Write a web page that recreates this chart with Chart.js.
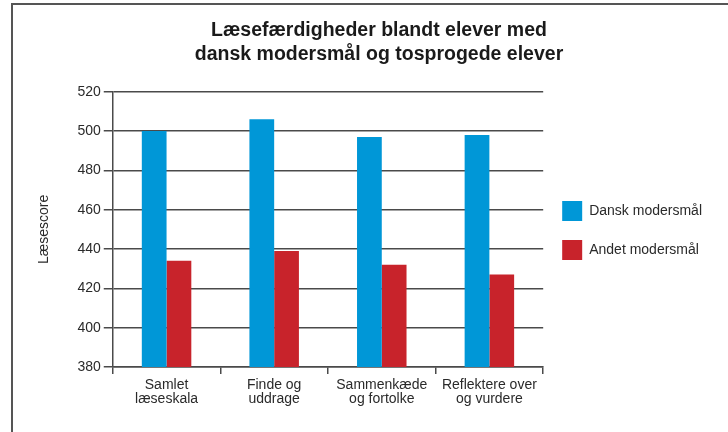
<!DOCTYPE html>
<html>
<head>
<meta charset="utf-8">
<script src="https://cdn.jsdelivr.net/npm/chart.js@4.4.1/dist/chart.umd.min.js"></script>
<style>
  html, body { margin: 0; padding: 0; background: #fff; width: 728px; height: 432px; overflow: hidden; }
  #frame { position: absolute; left: 11px; top: 3px; width: 800px; height: 500px; border-left: 2px solid #555; border-top: 2px solid #555; }
  #wrap { position: absolute; left: 30px; top: 0; width: 698px; height: 432px; }
</style>
</head>
<body>
<div id="frame"></div>
<div id="wrap"><canvas id="c" width="698" height="432"></canvas></div>
<script>
const titleLines = ['Læsefærdigheder blandt elever med', 'dansk modersmål og tosprogede elever'];
const categories = [['Samlet', 'læseskala'], ['Finde og', 'uddrage'], ['Sammenkæde', 'og fortolke'], ['Reflektere over', 'og vurdere']];
const seriesNames = ['Dansk modersmål', 'Andet modersmål'];
const danskValues = [500, 506, 497, 498];
const andetValues = [434, 439, 432, 427];
const yAxisTitle = 'Læsescore';
const yMin = 380, yMax = 520, yStep = 20;

const FONT = "'Liberation Sans', Arial, Helvetica, sans-serif";
const GRID = '#4a4a4a';

// shift the chart title slightly to the right, as in the reference
const titleShift = {
  id: 'titleShift',
  afterLayout(chart) {
    const t = chart.titleBlock;
    if (t) { t.left += 8; t.right += 8; }
  }
};

new Chart(document.getElementById('c'), {
  type: 'bar',
  plugins: [titleShift],
  data: {
    labels: categories,
    datasets: [
      { label: seriesNames[0], data: danskValues, backgroundColor: '#0097d7', borderWidth: 0, categoryPercentage: 0.46, barPercentage: 1.0 },
      { label: seriesNames[1], data: andetValues, backgroundColor: '#c8232b', borderWidth: 0, categoryPercentage: 0.46, barPercentage: 1.0 }
    ]
  },
  options: {
    responsive: false,
    animation: false,
    devicePixelRatio: 1,
    layout: { padding: { left: 0, right: 16, top: 0, bottom: 22 } },
    plugins: {
      tooltip: { enabled: false },
      title: {
        display: true,
        text: titleLines,
        color: '#1a1a1a',
        font: { family: FONT, size: 19.5, weight: 'bold', lineHeight: 1.25 },
        padding: { top: 18, bottom: 25 }
      },
      legend: {
        position: 'right',
        align: 'start',
        title: { display: true, text: ' ', font: { size: 10, lineHeight: 1 }, padding: { top: 172, bottom: 0 } },
        labels: {
          boxWidth: 20, boxHeight: 20, padding: 19,
          color: '#2a2a2a',
          font: { family: FONT, size: 14 }
        }
      }
    },
    scales: {
      x: {
        grid: { display: true, drawOnChartArea: false, drawTicks: true, tickLength: 7, color: GRID, lineWidth: 1.5, offset: true },
        border: { display: true, color: GRID, width: 1.5 },
        ticks: { color: '#2a2a2a', padding: 4, maxRotation: 0, autoSkip: false, font: { family: FONT, size: 14, lineHeight: 1.0 } }
      },
      y: {
        min: yMin, max: yMax,
        grid: { color: GRID, lineWidth: 1.5, tickLength: 9 },
        border: { display: true, color: GRID, width: 1.5 },
        ticks: { stepSize: yStep, color: '#2a2a2a', padding: 3, font: { family: FONT, size: 14 } },
        title: { display: true, text: yAxisTitle, color: '#2a2a2a', font: { family: FONT, size: 14 }, padding: { top: 5.6, bottom: 22 } }
      }
    }
  }
});
</script>
</body>
</html>
